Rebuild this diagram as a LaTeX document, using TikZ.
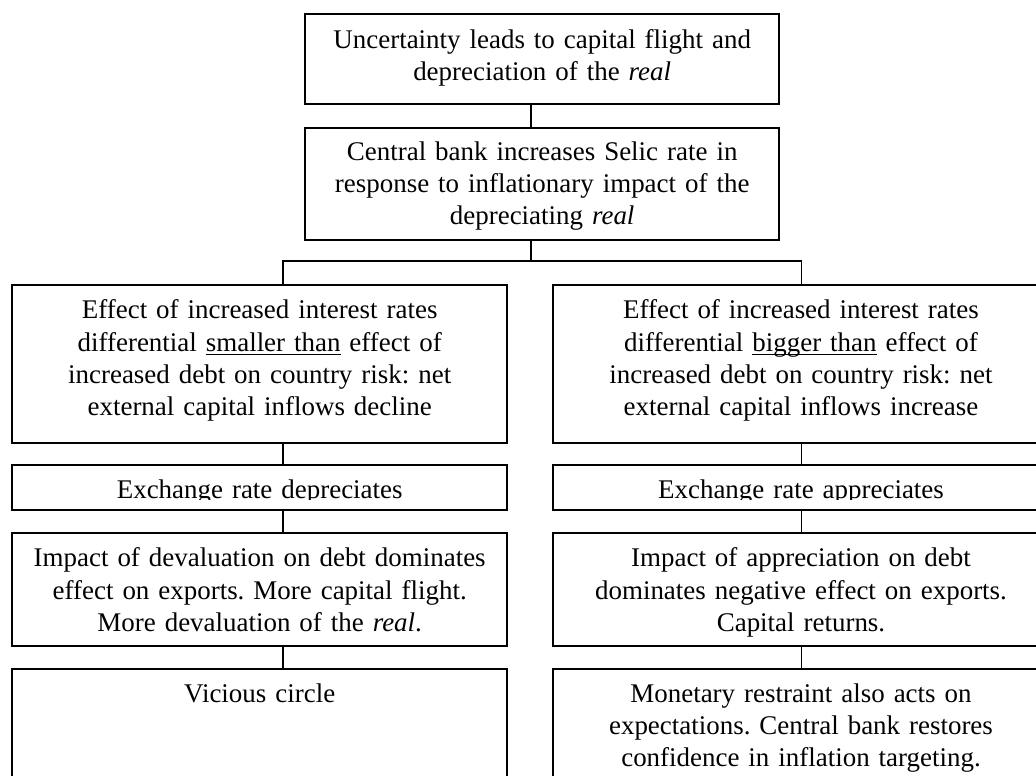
\documentclass[tikz,border=0pt]{standalone}
\usepackage{fontspec}
\setmainfont{Liberation Serif}
\frenchspacing
\newcommand{\pxu}{0.4268pt}
\newcommand{\flatul}[1]{\underline{\smash{#1}}}

\tikzset{
  flowbox/.style 2 args={draw, line width=0.8pt, anchor=north, inner sep=0pt,
    minimum width=#1*\pxu, minimum height=#2*\pxu},
  boxtext/.style={anchor=base, inner sep=0pt, align=center, text width=#1*\pxu,
    font=\fontsize{11.5pt}{13.7pt}\selectfont},
  link/.style={line width=0.6pt},
}

\begin{document}
\begin{tikzpicture}[x=\pxu, y=-\pxu]
\useasboundingbox (0,0) rectangle (1036,776);
\clip (0,0) rectangle (1036,776);
% stems the connectors run along
\coordinate (stem) at (531,0);
\coordinate (lstem) at (283,0);
\coordinate (rstem) at (801.5,0);
\coordinate (split) at (531,261);
% top of the chain
\node[flowbox={474.3}{90}] (shock) at (542.2,13.3) {};
\node[boxtext=460] (shocktxt) at (542.2,48.5)
  {Uncertainty leads to capital flight and\\ depreciation of the \textit{real}};
\node[flowbox={474.3}{112.3}] (policy) at (542.2,126.7) {};
\node[boxtext=460] (policytxt) at (542.2,160.5)
  {Central bank increases Selic rate in\\ response to inflationary impact of the\\ depreciating \textit{real}};
% the two columns of boxes
\foreach \col/\cx in {l/259.7, r/801}{
  \node[flowbox={495.3}{157.7}] (effect\col) at (\cx,284) {};
  \node[flowbox={495.3}{45}] (rate\col) at (\cx,464.3) {};
  \node[flowbox={495.3}{113}] (debt\col) at (\cx,532.3) {};
  \node[flowbox={495.3}{140}] (outcome\col) at (\cx,667.7) {};
}
% left column: the real keeps falling
\node[boxtext=485] (effectltxt) at (259.7,319)
  {Effect of increased interest rates\\ differential \flatul{smaller than} effect of\\ increased debt on country risk: net\\ external capital inflows decline};
\node[boxtext=485] (debtltxt) at (259.7,567)
  {Impact of devaluation on debt dominates\\ effect on exports. More capital flight.\\ More devaluation of the \textit{real}.};
\node[boxtext=485] (outcomeltxt) at (259.7,702.5) {Vicious circle};
% right column: the real recovers
\node[boxtext=485] (effectrtxt) at (801,319)
  {Effect of increased interest rates\\ differential \flatul{bigger than} effect of\\ increased debt on country risk: net\\ external capital inflows increase};
\node[boxtext=485] (debtrtxt) at (801,567)
  {Impact of appreciation on debt\\ dominates negative effect on exports.\\ Capital returns.};
\node[boxtext=485] (outcomertxt) at (801,702.5)
  {Monetary restraint also acts on\\ expectations. Central bank restores\\ confidence in inflation targeting.};
% exchange rate lines, cut off at the baseline
\begin{scope}
  \clip (0,464.3) rectangle (1036,500);
  \node[boxtext=485] (rateltxt) at (259.7,499) {Exchange rate depreciates};
  \node[boxtext=485] (ratertxt) at (801,499) {Exchange rate appreciates};
\end{scope}
% connectors
\draw[link] (shock.south -| stem) -- (policy.north -| stem);
\draw[link] (policy.south -| stem) -- (split);
\draw[link] (effectl.north -| lstem) |- (split) -| (effectr.north -| rstem);
\foreach \a/\b/\s in {effectl/ratel/lstem, ratel/debtl/lstem, debtl/outcomel/lstem,
                      effectr/rater/rstem, rater/debtr/rstem, debtr/outcomer/rstem}{
  \draw[link] (\a.south -| \s) -- (\b.north -| \s);
}
\end{tikzpicture}
\end{document}
